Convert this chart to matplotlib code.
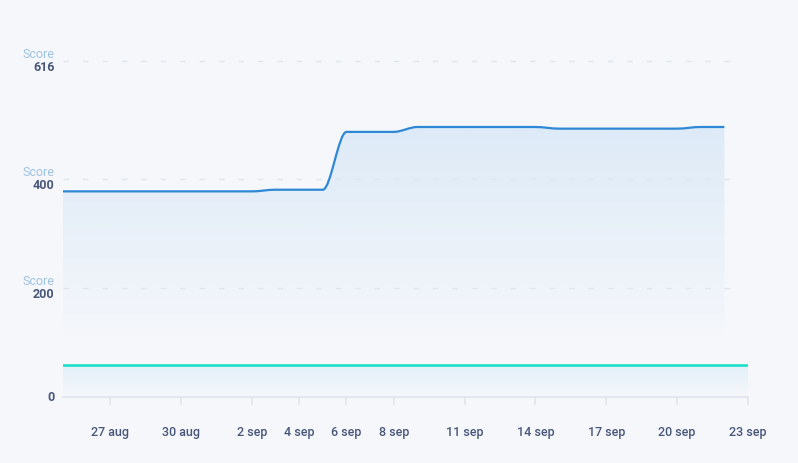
import matplotlib
matplotlib.use("Agg")
import matplotlib.pyplot as plt
import matplotlib.dates as mdates
from matplotlib.path import Path
from matplotlib.patches import PathPatch
import numpy as np

plt.rcParams['font.family'] = ['Roboto', 'DejaVu Sans']

# data
dates = np.arange(np.datetime64('2023-08-25'), np.datetime64('2023-09-23'))
score = [377, 377, 377, 377, 377, 377, 377, 377, 377,
         380, 380, 380,
         486, 486, 486,
         495, 495, 495, 495, 495, 495,
         492, 492, 492, 492, 492, 492,
         495, 495]
base_dates = np.arange(np.datetime64('2023-08-25'), np.datetime64('2023-09-24'))
base = [59] * len(base_dates)

yticks = [0, 200, 400, 616]
tick_dates = ['2023-08-27', '2023-08-30', '2023-09-02', '2023-09-04', '2023-09-06',
              '2023-09-08', '2023-09-11', '2023-09-14', '2023-09-17', '2023-09-20',
              '2023-09-23']
tick_labels = ['27 aug', '30 aug', '2 sep', '4 sep', '6 sep', '8 sep',
               '11 sep', '14 sep', '17 sep', '20 sep', '23 sep']

BG = '#f5f7fb'
BLUE = '#2f88d6'
TEAL = '#12dfc9'
GRID = '#dfe5ed'
LABEL = '#485679'
SCORE = '#9dc3e2'


def monotone_path(x, y):
    # monotone-x cubic curve through the points, as bezier segments
    x = np.asarray(x, float)
    y = np.asarray(y, float)
    h = np.diff(x)
    s = np.diff(y) / h
    n = len(x)
    m = np.zeros(n)
    for i in range(1, n - 1):
        p = (s[i - 1] * h[i] + s[i] * h[i - 1]) / (h[i - 1] + h[i])
        m[i] = (np.sign(s[i - 1]) + np.sign(s[i])) * min(abs(s[i - 1]), abs(s[i]), 0.5 * abs(p))
    m[0] = (3 * s[0] - m[1]) / 2
    m[-1] = (3 * s[-1] - m[-2]) / 2
    verts = [(x[0], y[0])]
    codes = [Path.MOVETO]
    for i in range(n - 1):
        d = h[i] / 3
        verts += [(x[i] + d, y[i] + m[i] * d), (x[i + 1] - d, y[i + 1] - m[i + 1] * d), (x[i + 1], y[i + 1])]
        codes += [Path.CURVE4] * 3
    return verts, codes


def gradient_fill(ax, verts, codes, color, a_top, v_top, v_bot, x0, x1):
    fv = [(verts[0][0], 0)] + verts + [(verts[-1][0], 0), (verts[0][0], 0)]
    fc = [Path.MOVETO, Path.LINETO] + codes[1:] + [Path.LINETO, Path.CLOSEPOLY]
    patch = PathPatch(Path(fv, fc), facecolor='none', edgecolor='none')
    ax.add_patch(patch)
    vals = np.linspace(0, v_top, 200)
    rgba = np.zeros((200, 1, 4))
    rgba[:, 0, :3] = matplotlib.colors.to_rgb(color)
    rgba[:, 0, 3] = a_top * np.clip((vals - v_bot) / (v_top - v_bot), 0, 1)
    im = ax.imshow(rgba, aspect='auto', origin='lower', extent=[x0, x1, 0, v_top],
                   interpolation='bilinear', zorder=1)
    im.set_clip_path(patch)


W, H = 798, 463
fig = plt.figure(figsize=(W / 100, H / 100), dpi=100, facecolor=BG)
left, right, y0px, ypx = 63, 748, 397, (397 - 61) / 616
ymax = 650
ax = fig.add_axes([left / W, 1 - y0px / H, (right - left) / W, ymax * ypx / H])
ax.set_facecolor(BG)

xs = mdates.date2num(dates.astype('datetime64[D]').astype(object))
xb = mdates.date2num(base_dates.astype('datetime64[D]').astype(object))

v, c = monotone_path(xs, score)
gradient_fill(ax, v, c, '#2e8bd9', 0.12, max(score), 100, xs[0], xs[-1])
ax.add_patch(PathPatch(Path(v, c), facecolor='none', edgecolor=BLUE, lw=1.6, zorder=4))

vb, cb = monotone_path(xb, base)
gradient_fill(ax, vb, cb, '#3aa8e0', 0.10, 59, 0, xb[0], xb[-1])
ax.plot(xb, base, color=TEAL, lw=1.8, zorder=4)

for t in yticks[1:]:
    ax.axhline(t, xmin=0, xmax=0.988, color=GRID, lw=1, dashes=(4, 10), zorder=2)

ax.set_xlim(xb[0], xb[-1])
ax.set_ylim(0, ymax)

for s in ['top', 'right', 'left']:
    ax.spines[s].set_visible(False)
ax.spines['bottom'].set_color('#e0e5ed')
ax.spines['bottom'].set_linewidth(1.3)

tnum = mdates.date2num(np.array(tick_dates, dtype='datetime64[D]').astype(object))
ax.set_xticks(tnum)
ax.set_xticklabels(tick_labels)
ax.tick_params(axis='x', length=6, width=1.2, color='#e0e5ed', pad=15,
               labelsize=9, labelcolor=LABEL)
for lab in ax.get_xticklabels():
    lab.set_fontweight('medium')
ax.set_yticks([])

for t in yticks:
    ax.annotate(str(t), xy=(0, t), xycoords=('axes fraction', 'data'),
                xytext=(-6, -4.5 if t else -0.5), textcoords='offset points',
                ha='right', va='center', fontsize=9, fontweight='bold', color=LABEL,
                annotation_clip=False)
    if t:
        ax.annotate('Score', xy=(0, t), xycoords=('axes fraction', 'data'),
                    xytext=(-6, 4.5), textcoords='offset points',
                    ha='right', va='center', fontsize=9, color=SCORE,
                    annotation_clip=False)

fig.savefig('out.png', dpi=100, facecolor=BG)
